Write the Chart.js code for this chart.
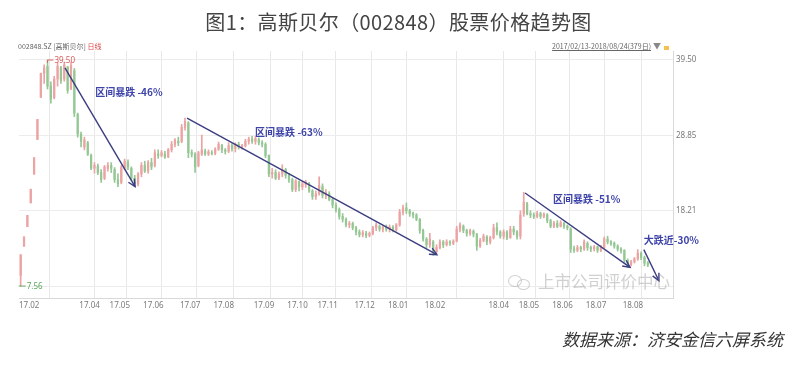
<!DOCTYPE html>
<html>
<head>
<meta charset="utf-8">
<script src="https://cdn.jsdelivr.net/npm/chart.js@4.4.1/dist/chart.umd.min.js"></script>
<style>
  body { margin: 0; background: #fff; }
  #wrap { position: relative; width: 797px; height: 374px; overflow: hidden; font-family: "Noto Sans CJK SC", "Noto Sans", sans-serif; }
  #kline { position: absolute; left: 0; top: 0; }
  #title { position: absolute; left: 0; top: 7px; width: 797px; text-align: center; font-size: 20px; line-height: 30px; color: #444; letter-spacing: 0.4px; }
  #head-left { position: absolute; left: 18px; top: 41px; font-size: 7px; line-height: 10px; color: #666; white-space: nowrap; }
  #head-left .red { color: #e04848; }
  #head-right { position: absolute; right: 128px; top: 41px; font-size: 7px; line-height: 10px; color: #666; white-space: nowrap; }
  #head-right u { margin-right: 2px; }
  #head-right .tri { color: #888; font-size: 8px; }
  #head-right .lock { display: inline-block; width: 5px; height: 4px; background: #f2c14e; margin-left: 3px; vertical-align: -1px; }
  #mark { position: absolute; left: 508px; top: 270px; font-size: 16.5px; line-height: 22px; color: rgba(150,150,150,0.45); white-space: nowrap; pointer-events: none; }
  #mark .ico { display: inline-block; position: relative; width: 24px; height: 16px; vertical-align: -2px; margin-right: 6px; }
  #mark .ico i { position: absolute; border: 1.5px solid rgba(150,150,150,0.45); border-radius: 50%; }
  #foot { position: absolute; right: 14px; top: 327px; font-size: 17px; line-height: 24px; font-style: italic; color: #333; white-space: nowrap; }
</style>
</head>
<body>
<div id="wrap">
  <canvas id="kline" width="797" height="374"></canvas>
  <div id="title">图1：高斯贝尔（002848）股票价格趋势图</div>
  <div id="head-left">002848.SZ [高斯贝尔] <span class="red">日线</span></div>
  <div id="head-right"><u>2017/02/13-2018/08/24(379日)</u><span class="tri">▼</span><span class="lock"></span></div>
  <div id="mark"><span class="ico"><i style="left:0;top:1px;width:12px;height:10px"></i><i style="left:9px;top:5px;width:11px;height:9px"></i></span>上市公司评价中心</div>
  <div id="foot">数据来源：济安金信六屏系统</div>
</div>
<script>
// candles, two trading days each, 2017-02-13 .. 2018-08
const opens = [
  9.07, 13.18, 15.95, 19.31, 23.36, 28.27, 34.21, 37.6, 38.6, 35.8,
  34.2, 36.8, 38.4, 36.8, 38.5, 35.5, 38.0, 31.8, 29.0, 27.2,
  27.8, 26.0, 24.2, 24.5, 23.6, 22.8, 24.2, 24.6, 24.0, 22.6,
  22.2, 24.2, 25.0, 24.2, 22.8, 22.0, 23.4, 24.6, 23.8, 25.0,
  24.6, 26.2, 26.0, 26.2, 25.8, 26.8, 27.6, 28.0, 28.0, 30.0,
  30.6, 26.4, 26.2, 24.6, 26.2, 26.6, 26.2, 26.4, 26.3, 26.9,
  27.4, 26.8, 26.6, 27.4, 27.0, 27.6, 27.2, 27.4, 28.0, 28.3,
  28.0, 28.3, 27.8, 27.6, 26.0, 23.4, 23.6, 22.8, 23.4, 24.0,
  23.2, 22.6, 21.2, 22.3, 21.6, 21.9, 22.0, 21.0, 20.2, 20.6,
  21.6, 20.4, 20.6, 19.8, 19.0, 18.4, 17.4, 17.0, 16.2, 16.4,
  15.8, 15.2, 14.8, 15.0, 14.7, 15.0, 15.8, 16.0, 15.6, 15.9,
  15.6, 15.9, 15.5, 16.2, 18.0, 18.6, 18.2, 17.8, 17.6, 17.0,
  15.4, 14.2, 13.4, 13.8, 12.4, 13.0, 13.8, 13.4, 13.8, 13.6,
  13.9, 15.6, 16.0, 15.4, 15.0, 15.3, 14.9, 13.2, 14.0, 14.5,
  13.8, 14.4, 15.8, 15.2, 14.6, 15.2, 14.4, 15.6, 15.2, 14.6,
  17.8, 19.2, 17.8, 17.6, 17.4, 17.8, 17.4, 17.6, 16.8, 16.0,
  16.4, 16.0, 16.4, 16.0, 15.6, 12.8, 12.6, 13.0, 12.8, 13.6,
  13.0, 12.8, 13.1, 12.6, 13.0, 14.2, 13.8, 13.6, 13.2, 12.8,
  12.6, 11.2, 10.6, 11.0, 11.4, 12.2, 11.6, 10.8
];
const closes = [
  11.98, 14.50, 17.55, 21.24, 25.70, 31.10, 37.63, 38.4, 35.8, 34.0,
  36.8, 38.6, 36.6, 38.8, 35.2, 38.7, 32.0, 29.0, 28.0, 28.2,
  26.2, 24.2, 24.6, 23.6, 22.6, 24.4, 24.6, 24.2, 22.6, 22.0,
  24.3, 25.2, 24.4, 22.8, 22.0, 23.4, 24.6, 23.8, 25.0, 24.4,
  26.4, 26.0, 26.4, 25.8, 26.8, 27.6, 28.2, 27.8, 30.0, 30.8,
  26.4, 26.2, 24.4, 26.4, 26.8, 26.2, 26.5, 26.3, 26.9, 27.6,
  26.8, 26.6, 27.4, 27.0, 27.6, 27.2, 27.4, 28.0, 28.3, 28.0,
  28.4, 27.8, 27.6, 26.0, 23.4, 23.6, 22.8, 23.4, 24.0, 23.2,
  22.6, 21.2, 22.4, 21.6, 22.0, 22.2, 21.0, 20.2, 20.6, 21.8,
  20.4, 20.8, 19.8, 19.0, 18.4, 17.4, 17.0, 16.2, 16.4, 15.8,
  15.2, 14.8, 15.1, 14.7, 15.0, 15.8, 16.2, 15.6, 15.9, 15.6,
  15.9, 15.5, 16.2, 18.0, 18.6, 18.2, 17.8, 17.6, 17.0, 15.4,
  14.2, 13.4, 14.2, 12.4, 13.0, 13.8, 13.4, 13.8, 13.6, 13.9,
  15.6, 16.2, 15.4, 15.0, 15.4, 14.9, 13.2, 14.0, 14.6, 13.8,
  14.4, 15.8, 15.2, 14.6, 15.2, 14.4, 15.6, 15.2, 14.6, 17.6,
  19.4, 17.8, 17.6, 17.4, 17.8, 17.4, 17.7, 16.8, 16.0, 16.4,
  16.0, 16.5, 16.0, 15.8, 12.8, 12.6, 13.0, 12.8, 13.8, 13.0,
  12.8, 13.1, 12.6, 13.0, 14.2, 13.8, 13.6, 13.2, 12.8, 12.6,
  11.2, 10.6, 11.0, 11.4, 12.2, 11.6, 10.8, 10.6
];
const lows = [
  7.56, 13.18, 15.95, 19.31, 23.36, 28.27, 34.21, 36.2, 35.4, 33.4,
  34.0, 35.8, 36.2, 36.5, 34.8, 35.3, 31.5, 28.6, 27.2, 26.8,
  26.0, 24.0, 23.5, 23.3, 22.2, 22.6, 23.8, 23.6, 22.2, 21.6,
  22.0, 24.0, 24.0, 22.5, 21.6, 21.7, 23.0, 23.6, 23.5, 24.0,
  24.4, 25.6, 25.8, 25.6, 25.7, 26.5, 27.2, 27.4, 27.8, 29.6,
  25.7, 25.8, 23.6, 24.4, 26.0, 26.0, 26.0, 26.1, 26.1, 26.7,
  26.4, 26.2, 26.4, 26.6, 26.5, 26.9, 26.9, 27.2, 27.6, 27.7,
  27.6, 27.5, 27.2, 25.7, 23.0, 22.8, 22.6, 22.6, 23.0, 22.8,
  22.2, 20.9, 20.9, 21.0, 21.2, 21.5, 20.8, 19.8, 19.8, 20.4,
  20.0, 19.9, 19.6, 18.6, 18.0, 17.0, 16.6, 15.9, 15.8, 15.5,
  14.8, 14.5, 14.5, 14.4, 14.5, 14.8, 15.4, 15.3, 15.2, 15.3,
  15.2, 15.2, 15.3, 16.0, 17.6, 17.8, 17.4, 17.2, 16.8, 15.0,
  13.9, 13.0, 13.0, 11.9, 12.2, 12.8, 13.0, 13.2, 13.3, 13.4,
  13.8, 15.2, 15.1, 14.6, 14.7, 14.5, 12.6, 13.0, 13.8, 13.4,
  13.5, 14.2, 14.8, 14.3, 14.2, 14.1, 14.3, 14.8, 14.2, 14.2,
  17.4, 17.6, 17.2, 17.1, 17.2, 17.1, 17.2, 16.5, 15.8, 15.8,
  15.8, 15.9, 15.7, 15.5, 12.3, 12.3, 12.4, 12.4, 12.6, 12.6,
  12.4, 12.5, 12.3, 12.4, 12.9, 13.5, 13.3, 12.9, 12.5, 12.2,
  10.9, 10.2, 10.4, 10.8, 11.2, 11.3, 10.4, 10.3
];
const highs = [
  11.98, 14.50, 17.55, 21.24, 25.70, 31.10, 37.63, 38.8, 39.5, 36.4,
  37.2, 39.1, 38.6, 39.2, 38.6, 39.2, 38.3, 32.0, 29.3, 28.6,
  28.0, 26.2, 25.0, 24.8, 24.0, 24.6, 25.0, 25.0, 24.3, 23.4,
  24.6, 25.5, 25.4, 24.4, 23.2, 23.6, 25.0, 25.2, 25.3, 25.6,
  26.8, 26.8, 26.7, 26.6, 27.0, 28.0, 28.4, 28.6, 30.4, 31.3,
  30.8, 26.8, 26.4, 26.6, 28.9, 26.9, 26.8, 26.7, 27.1, 27.9,
  27.6, 27.0, 27.8, 27.7, 27.8, 27.9, 27.6, 28.3, 28.6, 28.7,
  28.7, 28.5, 28.1, 27.8, 26.1, 24.2, 24.0, 23.7, 24.7, 24.2,
  23.5, 22.8, 22.6, 22.4, 22.3, 22.5, 22.2, 21.2, 21.0, 23.0,
  22.0, 21.2, 20.9, 20.0, 19.3, 18.6, 17.8, 17.2, 16.7, 16.6,
  16.0, 15.5, 15.4, 15.3, 15.2, 16.0, 16.5, 16.2, 16.1, 16.2,
  16.2, 16.1, 16.4, 18.4, 19.0, 19.3, 18.4, 18.0, 17.8, 17.1,
  15.6, 14.4, 15.0, 14.0, 13.4, 14.1, 14.0, 14.1, 14.0, 14.1,
  16.0, 16.5, 16.2, 15.6, 15.6, 15.5, 15.0, 14.3, 14.9, 14.7,
  14.6, 16.3, 16.5, 15.4, 15.5, 15.4, 16.0, 16.0, 15.4, 18.2,
  20.8, 19.4, 18.2, 17.9, 18.1, 18.0, 17.9, 17.8, 17.0, 16.7,
  16.8, 16.8, 16.6, 16.2, 15.8, 13.2, 13.3, 13.2, 14.1, 13.8,
  13.2, 13.3, 13.2, 13.3, 14.5, 14.6, 14.0, 13.8, 13.4, 13.0,
  12.7, 11.4, 11.2, 11.6, 12.7, 12.4, 11.8, 11.0
];

// month labels sit on the candle slot where each month starts
const monthLabels = ['17.02', '17.04', '17.05', '17.06', '17.07', '17.08', '17.09', '17.10', '17.11',
  '17.12', '18.01', '18.02', '18.04', '18.05', '18.06', '18.07', '18.08'];
const monthStarts = [0, 18, 27, 37, 48, 58, 70, 80, 89, 100, 110, 121, 140, 149, 159, 169, 180];

const priceTicks = [7.56, 18.21, 28.85, 39.50];
const priceLabels = ['', '18.21', '28.85', '39.50'];

// the four drop annotations, in slot / price units
const dropText = ['区间暴跌 -46%', '区间暴跌 -63%', '区间暴跌 -51%', '大跌近-30%'];
const dropTextAt = [[22.7, 35.0], [70.4, 29.35], [159.2, 19.9], [186.3, 14.0]];
const dropFrom = [[13.7, 38.4], [50.1, 31.3], [150.9, 20.7], [186.3, 12.7]];
const dropTo = [[34.6, 21.6], [124.6, 12.0], [182.2, 10.2], [190.8, 8.3]];

const UP = '#eba3a3';
const DOWN = '#94c794';

const bodies = opens.map((o, i) => ({ x: i + 0.5, y: [o, closes[i]] }));
const wicks = lows.map((l, i) => ({ x: i + 0.5, y: [l, highs[i]] }));
const candleColor = c => closes[c.dataIndex] >= opens[c.dataIndex] ? UP : DOWN;

const annotate = {
  id: 'annotate',
  afterDatasetsDraw(chart) {
    const { ctx } = chart;
    const x = chart.scales.x, y = chart.scales.y;
    ctx.save();

    // highest / lowest price tags
    const hi = Math.max(...highs), lo = Math.min(...lows);
    const hx = x.getPixelForValue(highs.indexOf(hi) + 0.5), hy = y.getPixelForValue(hi);
    const lx = x.getPixelForValue(lows.indexOf(lo) + 0.5), ly = y.getPixelForValue(lo);
    ctx.lineWidth = 1;
    ctx.font = '8px "Noto Sans", sans-serif';
    ctx.textBaseline = 'middle';
    ctx.strokeStyle = '#d66';
    ctx.beginPath();
    ctx.moveTo(hx, hy + 3); ctx.lineTo(hx, hy); ctx.lineTo(hx + 6, hy);
    ctx.stroke();
    ctx.fillStyle = '#d65a5a';
    ctx.fillText(hi.toFixed(2), hx + 7, hy + 1);
    ctx.strokeStyle = '#6aaa6a';
    ctx.beginPath();
    ctx.moveTo(lx - 2, ly); ctx.lineTo(lx + 5, ly);
    ctx.stroke();
    ctx.fillStyle = '#5aa65a';
    ctx.fillText(lo.toFixed(2), lx + 6, ly + 1);

    // arrows
    ctx.strokeStyle = '#3b3d82';
    ctx.lineWidth = 1.4;
    dropFrom.forEach((f, k) => {
      const x1 = x.getPixelForValue(f[0]), y1 = y.getPixelForValue(f[1]);
      const x2 = x.getPixelForValue(dropTo[k][0]), y2 = y.getPixelForValue(dropTo[k][1]);
      ctx.beginPath();
      ctx.moveTo(x1, y1); ctx.lineTo(x2, y2);
      ctx.stroke();
      const a = Math.atan2(y2 - y1, x2 - x1);
      ctx.beginPath();
      ctx.moveTo(x2 - 8 * Math.cos(a - 0.45), y2 - 8 * Math.sin(a - 0.45));
      ctx.lineTo(x2, y2);
      ctx.lineTo(x2 - 8 * Math.cos(a + 0.45), y2 - 8 * Math.sin(a + 0.45));
      ctx.stroke();
    });

    // labels
    ctx.fillStyle = '#3d43a8';
    ctx.font = 'bold 10px "Noto Sans CJK SC", sans-serif';
    ctx.textAlign = 'left';
    dropText.forEach((t, k) => {
      ctx.fillText(t, x.getPixelForValue(dropTextAt[k][0]), y.getPixelForValue(dropTextAt[k][1]));
    });
    ctx.restore();
  }
};

Chart.defaults.font.family = '"Noto Sans", "Noto Sans CJK SC", sans-serif';

new Chart(document.getElementById('kline'), {
  type: 'bar',
  data: {
    datasets: [
      { label: 'body', data: bodies, backgroundColor: candleColor, barThickness: 1.6, grouped: false, borderWidth: 0 },
      { label: 'wick', data: wicks, backgroundColor: candleColor, barThickness: 1, grouped: false, borderWidth: 0 }
    ]
  },
  options: {
    responsive: false,
    animation: false,
    events: [],
    layout: { padding: { left: 19, top: 51, right: 84, bottom: 58 } },
    plugins: { legend: { display: false }, tooltip: { enabled: false } },
    scales: {
      x: {
        type: 'linear', min: 0, max: 195, offset: false,
        afterBuildTicks: s => { s.ticks = monthStarts.map(v => ({ value: v })); },
        afterFit: s => { s.height = 18; },
        grid: { color: '#e8e8e8', drawTicks: false },
        border: { color: '#d9d9d9' },
        ticks: {
          align: 'start', autoSkip: false, maxRotation: 0, padding: 3,
          color: '#7a7a7a', font: { size: 8 },
          callback: v => monthLabels[monthStarts.indexOf(v)]
        }
      },
      y: {
        position: 'right', min: 5.87, max: 40.77,
        afterBuildTicks: s => { s.ticks = priceTicks.map(v => ({ value: v })); },
        afterFit: s => { s.width = 40; },
        grid: { color: '#ececec', drawTicks: false },
        border: { color: '#d9d9d9' },
        ticks: {
          padding: 3, color: '#7a7a7a', font: { size: 8 },
          callback: v => priceLabels[priceTicks.indexOf(v)]
        }
      }
    }
  },
  plugins: [annotate]
});
</script>
</body>
</html>
